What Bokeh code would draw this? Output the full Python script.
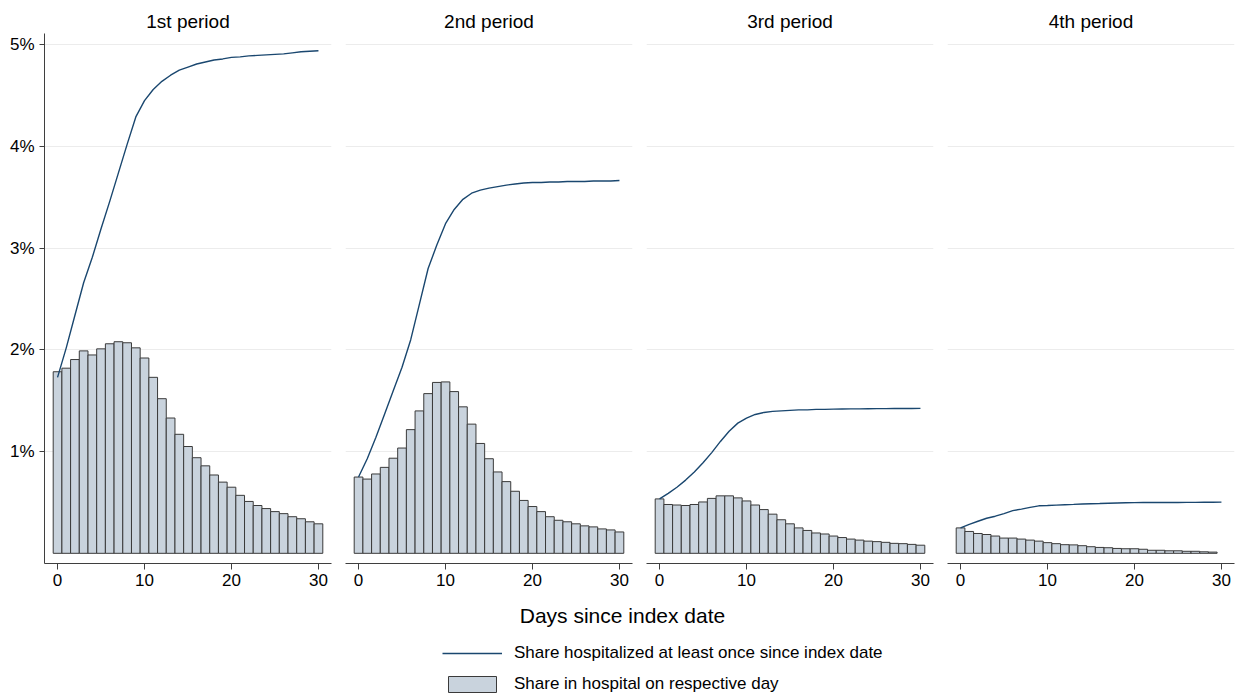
from bokeh.plotting import figure
from bokeh.layouts import column, row
from bokeh.models import FixedTicker, Range1d, Label, Legend, LegendItem, ColumnDataSource
from bokeh.embed import file_html
from bokeh.resources import INLINE

# ---------------- data ----------------
periods = ["1st period", "2nd period", "3rd period", "4th period"]
days = list(range(31))

# share hospitalized at least once since index date (%)
cum_p1 = [1.73, 2.02, 2.34, 2.66, 2.91, 3.19, 3.46, 3.74, 4.02, 4.29, 4.45, 4.56, 4.64,
          4.70, 4.75, 4.78, 4.81, 4.83, 4.85, 4.86, 4.875, 4.88, 4.89, 4.895, 4.90,
          4.905, 4.91, 4.92, 4.93, 4.935, 4.94]
cum_p2 = [0.75, 0.93, 1.14, 1.37, 1.60, 1.83, 2.10, 2.45, 2.80, 3.03, 3.24, 3.38, 3.48,
          3.54, 3.57, 3.59, 3.605, 3.62, 3.63, 3.64, 3.645, 3.645, 3.65, 3.65, 3.655,
          3.655, 3.655, 3.66, 3.66, 3.66, 3.665]
cum_p3 = [0.535, 0.59, 0.65, 0.72, 0.80, 0.89, 0.99, 1.10, 1.20, 1.28, 1.33, 1.365, 1.385,
          1.395, 1.40, 1.405, 1.41, 1.41, 1.415, 1.415, 1.418, 1.419, 1.42, 1.42, 1.421,
          1.422, 1.422, 1.423, 1.424, 1.424, 1.425]
cum_p4 = [0.25, 0.285, 0.315, 0.345, 0.365, 0.39, 0.42, 0.435, 0.452, 0.467, 0.47, 0.474,
          0.478, 0.481, 0.485, 0.488, 0.49, 0.493, 0.495, 0.497, 0.498, 0.499, 0.499, 0.50,
          0.50, 0.50, 0.501, 0.501, 0.502, 0.502, 0.503]

# share in hospital on respective day (%)
day_p1 = [1.785, 1.82, 1.905, 1.99, 1.95, 2.01, 2.06, 2.08, 2.07, 2.02, 1.92, 1.73, 1.52,
          1.33, 1.17, 1.05, 0.94, 0.86, 0.77, 0.70, 0.65, 0.57, 0.51, 0.47, 0.44, 0.41,
          0.39, 0.36, 0.34, 0.31, 0.29]
day_p2 = [0.75, 0.73, 0.78, 0.845, 0.935, 1.035, 1.216, 1.40, 1.57, 1.68, 1.685, 1.59,
          1.44, 1.27, 1.08, 0.93, 0.80, 0.705, 0.61, 0.52, 0.46, 0.41, 0.36, 0.325, 0.31,
          0.29, 0.27, 0.26, 0.24, 0.23, 0.21]
day_p3 = [0.535, 0.48, 0.475, 0.47, 0.48, 0.505, 0.54, 0.565, 0.565, 0.545, 0.515, 0.475,
          0.43, 0.385, 0.33, 0.29, 0.25, 0.225, 0.20, 0.19, 0.17, 0.155, 0.14, 0.13, 0.12,
          0.115, 0.108, 0.098, 0.095, 0.088, 0.08]
day_p4 = [0.25, 0.215, 0.195, 0.185, 0.17, 0.15, 0.15, 0.14, 0.13, 0.12, 0.105, 0.095,
          0.085, 0.083, 0.075, 0.065, 0.058, 0.055, 0.048, 0.045, 0.045, 0.04, 0.03, 0.03,
          0.025, 0.025, 0.02, 0.02, 0.015, 0.012]

cum_series = [cum_p1, cum_p2, cum_p3, cum_p4]
day_series = [day_p1, day_p2, day_p3, day_p4]

x_ticks = [0, 10, 20, 30]
y_ticks = [1, 2, 3, 4, 5]
y_tick_labels = ["1%", "2%", "3%", "4%", "5%"]

x_label = "Days since index date"
legend_labels = ["Share hospitalized at least once since index date",
                 "Share in hospital on respective day"]

# ---------------- style ----------------
FONT = "Liberation Sans"
LINE_COLOR = "#1a476f"
BAR_FILL = "#c9d3dd"
BAR_LINE = "#3a3a3a"
AXIS_COLOR = "#3f3f3f"
GRID_COLOR = "#ececec"

FRAME_W = 287
FRAME_H = 530

figs = []
for i, name in enumerate(periods):
    left = 44 if i == 0 else 7
    right = 7
    p = figure(frame_width=FRAME_W, frame_height=FRAME_H,
               x_range=Range1d(-1.5, 31.5), y_range=Range1d(-0.1, 5.11),
               output_backend="svg", toolbar_location=None,
               min_border_left=left, min_border_right=right,
               min_border_top=33, min_border_bottom=30)
    p.title.text = name
    p.title.align = "center"
    p.title.text_font = FONT
    p.title.text_font_size = "19px"
    p.title.text_font_style = "normal"
    p.title.text_color = "black"
    p.title.standoff = 4
    p.outline_line_color = None
    p.background_fill_color = "white"
    p.border_fill_color = "white"

    src = ColumnDataSource(dict(x=days[:len(day_series[i])], top=day_series[i]))
    p.vbar(x="x", top="top", bottom=0, width=1.0, source=src,
           fill_color=BAR_FILL, line_color=BAR_LINE, line_width=1)
    p.line(days, cum_series[i], line_color=LINE_COLOR, line_width=1.4)

    p.xgrid.visible = False
    p.ygrid.ticker = FixedTicker(ticks=y_ticks)
    p.ygrid.grid_line_color = GRID_COLOR
    p.ygrid.grid_line_width = 1

    xa = p.xaxis[0]
    xa.ticker = FixedTicker(ticks=x_ticks)
    xa.axis_line_color = AXIS_COLOR
    xa.major_tick_line_color = AXIS_COLOR
    xa.major_tick_out = 6
    xa.major_tick_in = 0
    xa.minor_tick_line_color = None
    xa.major_label_text_font = FONT
    xa.major_label_text_font_size = "17px"
    xa.major_label_text_color = "black"
    xa.major_label_standoff = 4

    ya = p.yaxis[0]
    if i == 0:
        ya.ticker = FixedTicker(ticks=y_ticks)
        ya.major_label_overrides = {t: l for t, l in zip(y_ticks, y_tick_labels)}
        ya.axis_line_color = AXIS_COLOR
        ya.major_tick_line_color = AXIS_COLOR
        ya.major_tick_out = 5
        ya.major_tick_in = 0
        ya.minor_tick_line_color = None
        ya.major_label_text_font = FONT
        ya.major_label_text_font_size = "17px"
        ya.major_label_text_color = "black"
        ya.major_label_standoff = 5
    else:
        ya.visible = False
    figs.append(p)

panels = row(*figs, spacing=0)

# ---------------- bottom: axis title and legend ----------------
BW = 1241
BH = 101
b = figure(width=BW, height=BH, x_range=Range1d(0, BW), y_range=Range1d(0, BH),
           output_backend="svg", toolbar_location=None,
           min_border=0, min_border_left=0, min_border_right=0,
           min_border_top=0, min_border_bottom=0)
b.axis.visible = False
b.grid.visible = False
b.outline_line_color = None

b.add_layout(Label(x=622, y=BH - 22, text=x_label, text_font=FONT,
                   text_font_size="21px", text_align="center",
                   text_baseline="middle", text_color="black"))

# off-screen single points so the legend glyphs are drawn
dummy = ColumnDataSource(dict(x=[-1000, -999], y=[-1000, -1000], top=[-999, -999]))
r_line = b.line(x="x", y="y", source=dummy, line_color=LINE_COLOR, line_width=1.4)
r_bar = b.vbar(x="x", top="top", bottom="y", width=1, source=dummy,
               fill_color=BAR_FILL, line_color=BAR_LINE, line_width=1)

legend = Legend(items=[LegendItem(label=legend_labels[0], renderers=[r_line]),
                       LegendItem(label=legend_labels[1], renderers=[r_bar])],
                location=(442, 0), orientation="vertical",
                glyph_width=60, glyph_height=20, spacing=11, label_standoff=12,
                padding=0, margin=0, border_line_color=None,
                background_fill_alpha=0,
                label_text_font=FONT, label_text_font_size="17px",
                label_text_color="black")
b.add_layout(legend)

layout = column(panels, b, spacing=0)

open("out.html", "w").write(file_html(layout, INLINE))
